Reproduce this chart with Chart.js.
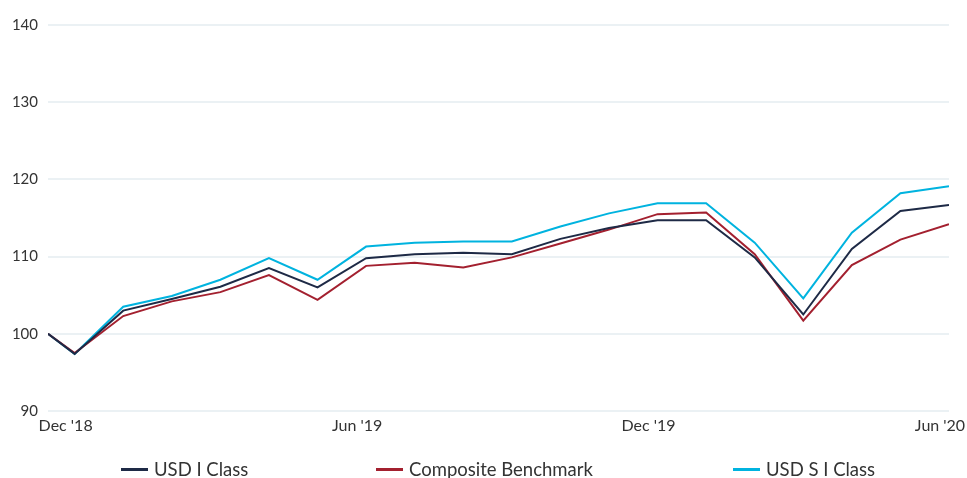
<!DOCTYPE html>
<html>
<head>
<meta charset="utf-8">
<script src="https://cdn.jsdelivr.net/npm/chart.js@4/dist/chart.umd.min.js"></script>
<style>
  html, body { margin: 0; padding: 0; background: #ffffff; }
  #wrap { position: relative; width: 967px; height: 478px; overflow: hidden; }
  #legend { position: absolute; left: 0; top: 458px; width: 967px; height: 22px;
            font-family: Lato, "Open Sans", sans-serif; font-size: 18.5px; color: #333333; }
  .item { position: absolute; top: 0; display: flex; align-items: center; height: 22px; white-space: nowrap; }
  .sw { display: inline-block; width: 27px; height: 3px; margin-right: 6px; }
</style>
</head>
<body>
<div id="wrap">
  <canvas id="c" width="967" height="478"></canvas>
  <div id="legend"></div>
</div>
<script>
// Observation dates (inception, then month ends)
const dates = ["2018-12-14","2018-12-31","2019-01-31","2019-02-28","2019-03-31","2019-04-30","2019-05-31",
  "2019-06-30","2019-07-31","2019-08-31","2019-09-30","2019-10-31","2019-11-30","2019-12-31",
  "2020-01-31","2020-02-29","2020-03-31","2020-04-30","2020-05-31","2020-06-30"];

const seriesNames = ["USD I Class", "Composite Benchmark", "USD S I Class"];

const usdIClass = [100.0, 97.4, 103.0, 104.5, 106.1, 108.5, 106.0, 109.8, 110.3, 110.5, 110.3,
  112.3, 113.7, 114.7, 114.7, 109.9, 102.5, 111.0, 115.9, 116.7];
const compositeBenchmark = [100.0, 97.5, 102.3, 104.2, 105.4, 107.6, 104.4, 108.8, 109.2, 108.6, 109.9,
  111.7, 113.5, 115.5, 115.7, 110.3, 101.7, 108.9, 112.2, 114.2];
const usdSIClass = [100.0, 97.4, 103.5, 104.9, 107.0, 109.8, 107.0, 111.3, 111.8, 111.95, 111.95,
  113.9, 115.6, 116.9, 116.9, 111.8, 104.6, 113.1, 118.2, 119.1];

const tickDates = ["2018-12-31","2019-06-30","2019-12-31","2020-06-30"];
const tickLabels = ["Dec '18","Jun '19","Dec '19","Jun '20"];

const yTicks = [90, 100, 110, 120, 130, 140];

const colors = ["#1e2a46", "#a3202f", "#00b3df"];

// month position: Dec 31 2018 = 0, each month end +1
function monthPos(s) {
  const [y, m, d] = s.split("-").map(Number);
  const dim = new Date(y, m, 0).getDate();
  return (y - 2018) * 12 + (m - 12) + d / dim - 1;
}
const xs = dates.map(monthPos);
const toPts = arr => arr.map((v, i) => ({ x: xs[i], y: v }));
const tickPos = tickDates.map(monthPos);

const allSeries = [usdIClass, compositeBenchmark, usdSIClass];

const chart = new Chart(document.getElementById("c"), {
  type: "line",
  data: {
    datasets: allSeries.map((s, i) => ({
      label: seriesNames[i],
      data: toPts(s),
      borderColor: colors[i],
      backgroundColor: colors[i],
      borderWidth: 2,
      pointRadius: 0,
      tension: 0,
      fill: false
    }))
  },
  options: {
    responsive: false,
    animation: false,
    layout: { padding: { top: 25, right: 18, left: 0, bottom: 37 } },
    plugins: { legend: { display: false }, tooltip: { enabled: false } },
    scales: {
      x: {
        type: "linear",
        min: xs[0],
        max: xs[xs.length - 1],
        grid: { display: false, drawTicks: false },
        border: { display: false },
        afterBuildTicks: sc => { sc.ticks = tickPos.map(v => ({ value: v })); },
        afterFit: sc => { sc.height = 30; sc.paddingLeft = 0; sc.paddingRight = 0; },
        ticks: {
          autoSkip: false,
          maxRotation: 0,
          padding: 5,
          labelOffset: -9,
          color: "#333333",
          font: { family: "Lato", size: 16 },
          callback: (v) => {
            const k = tickPos.findIndex(t => Math.abs(t - v) < 1e-6);
            return k >= 0 ? tickLabels[k] : "";
          }
        }
      },
      y: {
        min: yTicks[0],
        max: yTicks[yTicks.length - 1],
        grid: { color: "#ebf1f4", lineWidth: 2, drawTicks: false },
        border: { display: false },
        afterBuildTicks: sc => { sc.ticks = yTicks.map(v => ({ value: v })); },
        afterFit: sc => { sc.width = 48; sc.paddingTop = 0; sc.paddingBottom = 0; },
        ticks: {
          padding: 10,
          color: "#333333",
          font: { family: "Lato", size: 15 }
        }
      }
    }
  }
});

// HTML legend
const legendPos = [121, 376, 733];
const lg = document.getElementById("legend");
seriesNames.forEach((n, i) => {
  const it = document.createElement("div");
  it.className = "item";
  it.style.left = legendPos[i] + "px";
  const sw = document.createElement("span");
  sw.className = "sw";
  sw.style.background = colors[i];
  const tx = document.createElement("span");
  tx.textContent = n;
  it.appendChild(sw); it.appendChild(tx);
  lg.appendChild(it);
});
</script>
</body>
</html>
